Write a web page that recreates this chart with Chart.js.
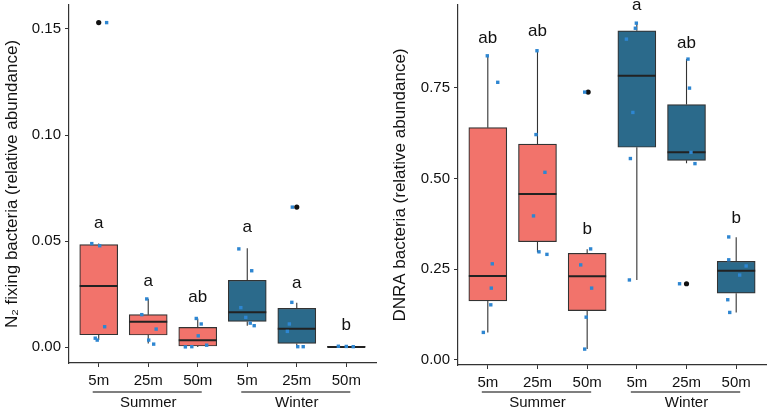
<!DOCTYPE html>
<html>
<head>
  <title>N2 fixing and DNRA bacteria</title>
  <script src="https://cdn.jsdelivr.net/npm/chart.js"></script>
  <style>
    body {
      margin: 0;
      background: #fff;
      font-family: "Liberation Sans", Arial, sans-serif;
    }
    .wrap {
      display: flex;
      width: 770px;
      height: 408px;
    }
    .panel {
      position: relative;
      width: 385px;
      height: 408px;
    }
  </style>
</head>
<body>
  <div class="wrap">
    <div class="panel"><canvas id="n2Chart"></canvas></div>
    <div class="panel"><canvas id="dnraChart"></canvas></div>
  </div>

  <script>
    // categories
    const depths = ['5m', '25m', '50m', '5m', '25m', '50m'];
    const seasons = ['Summer', 'Winter'];
    const seasonPos = [1, 4];

    // N2 fixing bacteria: box stats per group
    const n2Lo  = [0.0033, 0.0017, 0.0001, 0.0101, 0.0002, 0.0000];
    const n2Q1  = [0.0058, 0.0057, 0.0005, 0.0121, 0.0017, 0.0000];
    const n2Med = [0.0288, 0.0119, 0.0032, 0.0164, 0.0086, 0.0001];
    const n2Q3  = [0.0483, 0.0153, 0.0093, 0.0315, 0.0183, 0.0003];
    const n2Hi  = [0.0488, 0.0228, 0.0135, 0.0466, 0.0209, 0.0008];
    const n2Letters = ['a', 'a', 'ab', 'a', 'a', 'b'];
    const n2LetterY = [0.0585, 0.0312, 0.0236, 0.0566, 0.0302, 0.0104];
    const n2Ticks = [0, 0.05, 0.10, 0.15];
    // samples: [group index + jitter, value]
    const n2Points = [
      [-0.14, 0.0488], [0.02, 0.0478], [0.12, 0.0096], [-0.07, 0.0042], [-0.03, 0.0033], [0.16, 0.153],
      [0.97, 0.0227], [0.87, 0.0153], [1.16, 0.0085], [1.01, 0.0033], [1.11, 0.0014],
      [1.97, 0.0135], [2.07, 0.0109], [2.01, 0.0053], [1.75, 0.0001], [1.88, 0.0002], [2.18, 0.0009],
      [2.83, 0.0463], [3.09, 0.036], [2.87, 0.0186], [2.97, 0.014], [3.06, 0.0113], [3.14, 0.0101],
      [3.91, 0.066], [3.9, 0.0211], [3.85, 0.0109], [3.81, 0.0074], [4.02, 0.0002], [4.13, 0.0002],
      [4.84, 0.0004], [5.0, 0.0003], [5.14, 0.0002]
    ];
    const n2Outliers = [[0, 0.153], [4, 0.066]];

    // DNRA bacteria: box stats per group
    const dnraLo  = [0.076, 0.297, 0.030, 0.2205, 0.542, 0.131];
    const dnraQ1  = [0.163, 0.326, 0.136, 0.586, 0.550, 0.184];
    const dnraMed = [0.2315, 0.4575, 0.2306, 0.783, 0.572, 0.246];
    const dnraQ3  = [0.640, 0.595, 0.294, 0.907, 0.7036, 0.272];
    const dnraHi  = [0.838, 0.852, 0.305, 0.928, 0.829, 0.338];
    const dnraLetters = ['ab', 'ab', 'b', 'a', 'ab', 'b'];
    const dnraLetterY = [0.8855, 0.905, 0.361, 0.976, 0.873, 0.389];
    const dnraTicks = [0, 0.25, 0.50, 0.75];
    const dnraPoints = [
      [-0.01, 0.838], [0.2, 0.765], [0.09, 0.265], [0.07, 0.198], [0.06, 0.152], [-0.09, 0.076],
      [0.99, 0.852], [0.97, 0.621], [1.15, 0.517], [0.92, 0.397], [1.03, 0.298], [1.19, 0.291],
      [1.95, 0.738], [2.07, 0.306], [1.87, 0.262], [2.09, 0.198], [1.98, 0.118], [1.95, 0.030],
      [2.99, 0.928], [2.97, 0.914], [2.79, 0.884], [2.92, 0.682], [2.87, 0.555], [2.85, 0.2205],
      [4.03, 0.829], [4.06, 0.749], [4.09, 0.572], [4.17, 0.541], [3.86, 0.210],
      [4.85, 0.339], [4.85, 0.276], [5.2, 0.259], [5.07, 0.234], [4.83, 0.166], [4.87, 0.131]
    ];
    const dnraOutliers = [[2.02, 0.738], [4, 0.210]];

    const boxColors = ['#F2736B', '#F2736B', '#F2736B', '#2B6A8B', '#2B6A8B', '#2B6A8B'];
    const font = '"Liberation Sans", Arial, sans-serif';
    const ink = '#333';

    // whiskers, medians, letters and season underlines
    const boxExtras = {
      id: 'boxExtras',
      afterDatasetDraw(chart, args) {
        if (args.index !== 0) return;
        const s = chart.options.plugins.boxExtras;
        const y = chart.scales.y;
        const ctx = chart.ctx;
        ctx.save();
        args.meta.data.forEach((bar, i) => {
          ctx.strokeStyle = ink;
          ctx.lineWidth = 1.1;
          ctx.beginPath();
          ctx.moveTo(bar.x, y.getPixelForValue(s.hi[i]));
          ctx.lineTo(bar.x, y.getPixelForValue(s.q3[i]));
          ctx.moveTo(bar.x, y.getPixelForValue(s.q1[i]));
          ctx.lineTo(bar.x, y.getPixelForValue(s.lo[i]));
          ctx.stroke();
          ctx.lineWidth = 2;
          ctx.strokeStyle = '#222';
          const my = y.getPixelForValue(s.med[i]);
          ctx.beginPath();
          ctx.moveTo(bar.x - bar.width / 2, my);
          ctx.lineTo(bar.x + bar.width / 2, my);
          ctx.stroke();
        });
        ctx.restore();
      },
      afterDraw(chart) {
        const s = chart.options.plugins.boxExtras;
        const x = chart.scales.x;
        const y = chart.scales.y;
        const ctx = chart.ctx;
        ctx.save();
        ctx.fillStyle = '#111';
        ctx.font = '17px ' + font;
        ctx.textAlign = 'center';
        ctx.textBaseline = 'middle';
        s.letters.forEach((t, i) => {
          ctx.fillText(t, x.getPixelForValue(i), y.getPixelForValue(s.letterY[i]));
        });
        ctx.strokeStyle = '#555';
        ctx.lineWidth = 1.6;
        const ly = 392;
        [[0, 2], [3, 5]].forEach(([a, b]) => {
          ctx.beginPath();
          ctx.moveTo(x.getPixelForValue(a) - 6, ly);
          ctx.lineTo(x.getPixelForValue(b) + 4, ly);
          ctx.stroke();
        });
        ctx.restore();
      }
    };

    function noPad(s) {
      s.paddingTop = 0;
      s.paddingBottom = 0;
      s.paddingLeft = 0;
      s.paddingRight = 0;
    }

    function makePanel(id, st, ticks, yMin, yMax, title, axisW, padRight, xH, titlePad) {
      const ctx = document.getElementById(id).getContext('2d');
      return new Chart(ctx, {
        type: 'bar',
        data: {
          datasets: [
            {
              type: 'bar',
              data: st.q1.map((v, i) => ({ x: i, y: [v, st.q3[i]] })),
              backgroundColor: boxColors,
              borderColor: ink,
              borderWidth: 1.2,
              borderSkipped: false,
              barThickness: 38,
              grouped: false,
              order: 3
            },
            {
              type: 'scatter',
              data: st.outliers.map(p => ({ x: p[0], y: p[1] })),
              backgroundColor: '#111',
              borderWidth: 0,
              pointRadius: 2.6,
              order: 2
            },
            {
              type: 'scatter',
              data: st.points.map(p => ({ x: p[0], y: p[1] })),
              backgroundColor: '#2E86D1',
              borderWidth: 0,
              pointStyle: 'rect',
              pointRadius: 2.4,
              order: 1
            }
          ]
        },
        options: {
          responsive: true,
          maintainAspectRatio: false,
          animation: false,
          layout: { padding: { top: 5, right: padRight, bottom: 0, left: 0 } },
          plugins: {
            legend: { display: false },
            tooltip: { enabled: false },
            boxExtras: st
          },
          scales: {
            x: {
              type: 'linear',
              min: -0.6,
              max: 5.6,
              offset: false,
              weight: 1,
              grid: { offset: false, drawOnChartArea: false, drawTicks: true, tickLength: 4, color: ink },
              border: { display: true, color: ink, width: 1.2 },
              ticks: {
                color: '#111',
                font: { family: font, size: 15 },
                padding: 5,
                maxRotation: 0,
                autoSkip: false,
                callback: v => depths[v]
              },
              afterBuildTicks: s => { s.ticks = depths.map((d, i) => ({ value: i })); },
              afterFit: s => { s.height = xH; noPad(s); }
            },
            season: {
              type: 'linear',
              position: 'bottom',
              min: -0.6,
              max: 5.6,
              offset: false,
              weight: 2,
              grid: { display: false, offset: false, drawTicks: false },
              border: { display: false },
              ticks: {
                color: '#111',
                font: { family: font, size: 15 },
                padding: 6,
                autoSkip: false,
                maxRotation: 0,
                callback: v => seasons[seasonPos.indexOf(v)]
              },
              afterBuildTicks: s => { s.ticks = seasonPos.map(v => ({ value: v })); },
              afterFit: s => { s.height = 20; noPad(s); }
            },
            y: {
              min: yMin,
              max: yMax,
              grid: { drawOnChartArea: false, drawTicks: true, tickLength: 4, color: ink },
              border: { display: true, color: ink, width: 1.2 },
              ticks: {
                color: '#111',
                font: { family: font, size: 15 },
                padding: 4,
                callback: v => v.toFixed(2)
              },
              afterBuildTicks: s => { s.ticks = ticks.map(v => ({ value: v })); },
              title: {
                display: true,
                text: title,
                color: '#111',
                font: { family: font, size: 17 },
                padding: { top: titlePad, bottom: 0 }
              },
              afterFit: s => { s.width = axisW; noPad(s); }
            }
          }
        },
        plugins: [boxExtras]
      });
    }

    makePanel('n2Chart', {
      lo: n2Lo, q1: n2Q1, med: n2Med, q3: n2Q3, hi: n2Hi,
      letters: n2Letters, letterY: n2LetterY,
      points: n2Points, outliers: n2Outliers
    }, n2Ticks, -0.0075, 0.1613, 'N\u2082 fixing bacteria (relative abundance)', 69, 9, 25, 2);

    makePanel('dnraChart', {
      lo: dnraLo, q1: dnraQ1, med: dnraMed, q3: dnraQ3, hi: dnraHi,
      letters: dnraLetters, letterY: dnraLetterY,
      points: dnraPoints, outliers: dnraOutliers
    }, dnraTicks, -0.0138, 0.978, 'DNRA bacteria (relative abundance)', 73, 2, 23, 5);
  </script>
</body>
</html>
